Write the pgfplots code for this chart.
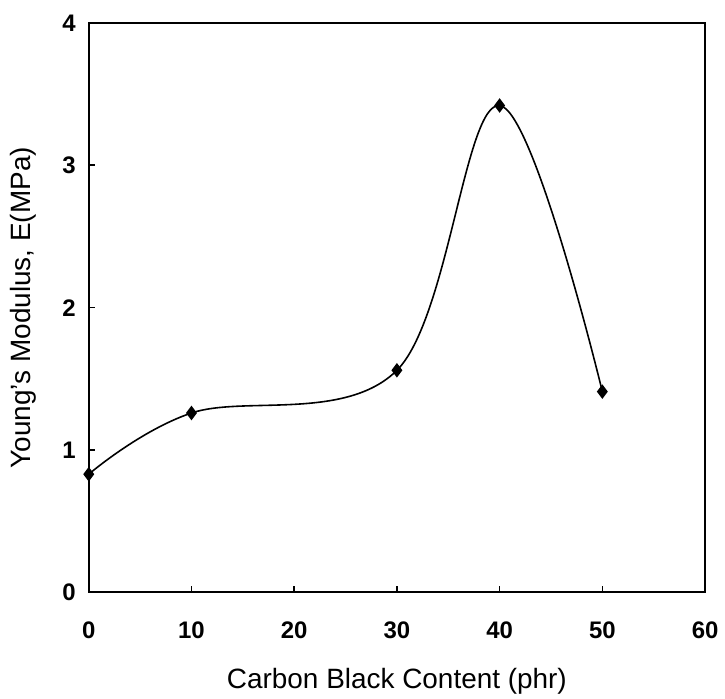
\documentclass[border=0pt]{standalone}
\usepackage{pgfplots}
\pgfplotsset{compat=1.18}
\usepackage{fontspec}
\setmainfont{Liberation Sans}
\begin{document}
\begin{tikzpicture}
\begin{axis}[
  scale only axis,
  width=309pt, height=285.5pt,
  at={(0,0)}, anchor=south west,
  xmin=0, xmax=60, ymin=0, ymax=4,
  xtick={0,10,20,30,40,50,60},
  ytick={0,1,2,3,4},
  tick align=inside,
  xtick pos=left, ytick pos=left,
  major tick length=3pt,
  axis line style={line width=1pt},
  tick style={black, line width=0.8pt},
  /pgf/number format/assume math mode=true,
  ticklabel style={font=\fontsize{12}{14}\selectfont\bfseries},
  xticklabel style={yshift=-11pt},
  yticklabel style={xshift=-3pt},
  xlabel={Carbon Black Content (phr)},
  ylabel={Young's Modulus, E(MPa)},
  every axis x label/.style={at={(axis description cs:0.5,-0.156)}, anchor=center, font=\fontsize{14}{16}\selectfont},
  every axis y label/.style={at={(axis description cs:-0.106,0.5)}, anchor=center, rotate=90, font=\fontsize{14}{16}\selectfont},
]
\addplot[black, line width=0.8pt, smooth, tension=0.6, mark=diamond*, mark size=3pt, mark options={fill=black}]
  coordinates {(0,0.83) (10,1.26) (30,1.56) (40,3.42) (50,1.41)};
\end{axis}
\pgfresetboundingbox
\path[use as bounding box] (-44.5pt,-53pt) rectangle (319pt,297pt);
\end{tikzpicture}
\end{document}
